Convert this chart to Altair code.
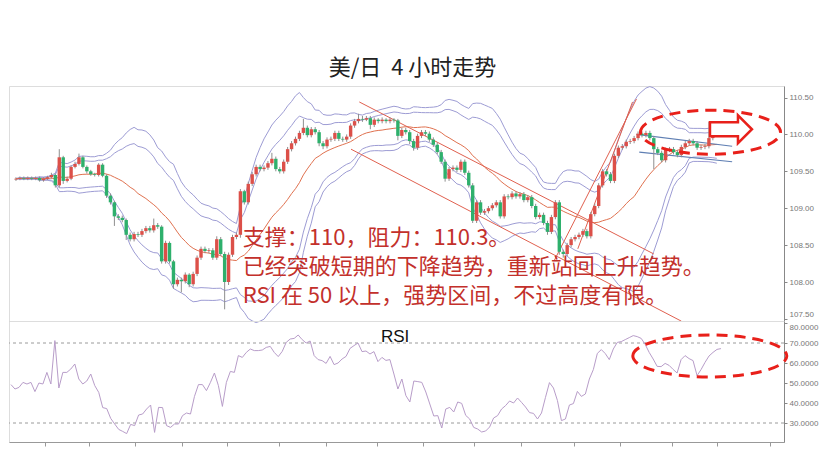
import altair as alt
import pandas as pd

# ---------------- data ----------------
closes = [
    109.40, 109.41, 109.40, 109.41, 109.40, 109.41, 109.38, 109.40, 109.42, 109.45,
    109.31, 109.69, 109.37, 109.40, 109.56, 109.60, 109.69, 109.56, 109.50, 109.46,
    109.45, 109.59, 109.44, 109.17, 109.08, 108.89, 108.87, 108.84, 108.64, 108.58,
    108.65, 108.64, 108.69, 108.73, 108.70, 108.77, 108.75, 108.28, 108.53, 108.28,
    107.97, 108.03, 108.01, 108.10, 107.97, 108.11, 108.33, 108.45, 108.42, 108.43,
    108.33, 108.58, 108.38, 108.00, 108.37, 108.61, 108.64, 109.23, 109.08, 109.33,
    109.46, 109.56, 109.53, 109.55, 109.61, 109.67, 109.53, 109.50, 109.63, 109.80,
    109.88, 109.94, 110.02, 110.09, 109.99, 110.07, 110.03, 109.88, 109.84, 109.93,
    109.94, 110.02, 109.94, 109.93, 109.97, 110.12, 110.18, 110.21, 110.20, 110.22,
    110.13, 110.20, 110.18, 110.20, 110.18, 110.20, 110.19, 109.98, 110.06, 110.03,
    109.91, 109.82, 109.98, 110.03, 110.01, 109.93, 109.86, 109.76, 109.63, 109.40,
    109.53, 109.55, 109.52, 109.63, 109.48, 109.31, 108.83, 109.08, 108.94, 108.96,
    109.00, 109.04, 109.08, 108.89, 109.16, 109.15, 109.20, 109.16, 109.19, 109.11,
    109.15, 109.03, 108.88, 108.91, 108.80, 108.68, 108.88, 109.08, 108.41, 108.38,
    108.50, 108.58, 108.61, 108.64, 108.69, 108.62, 108.92, 109.03, 109.31, 109.50,
    109.46, 109.37, 109.71, 109.82, 109.84, 109.90, 109.91, 109.95, 110.01, 109.99,
    110.02, 109.95, 109.80, 109.75, 109.65, 109.79, 109.80, 109.76, 109.72, 109.83,
    109.88, 109.91, 109.88, 109.82, 109.83, 109.84, 109.95, 110.03, 110.09,
]
opens = [
    109.39, 109.40, 109.41, 109.40, 109.41, 109.40, 109.41, 109.38, 109.40, 109.42,
    109.45, 109.31, 109.69, 109.37, 109.40, 109.56, 109.60, 109.69, 109.56, 109.50,
    109.46, 109.45, 109.59, 109.44, 109.17, 109.08, 108.89, 108.87, 108.84, 108.64,
    108.58, 108.65, 108.64, 108.69, 108.73, 108.70, 108.77, 108.75, 108.28, 108.53,
    108.28, 107.97, 108.03, 108.01, 108.10, 107.97, 108.11, 108.33, 108.45, 108.42,
    108.43, 108.33, 108.58, 108.38, 108.00, 108.37, 108.61, 108.64, 109.23, 109.08,
    109.33, 109.46, 109.56, 109.53, 109.55, 109.61, 109.67, 109.53, 109.50, 109.63,
    109.80, 109.88, 109.94, 110.02, 110.09, 109.99, 110.07, 110.03, 109.88, 109.84,
    109.93, 109.94, 110.02, 109.94, 109.93, 109.97, 110.12, 110.18, 110.21, 110.20,
    110.22, 110.13, 110.20, 110.18, 110.20, 110.18, 110.20, 110.19, 109.98, 110.06,
    110.03, 109.91, 109.82, 109.98, 110.03, 110.01, 109.93, 109.86, 109.76, 109.63,
    109.40, 109.53, 109.55, 109.52, 109.63, 109.48, 109.31, 108.83, 109.08, 108.94,
    108.96, 109.00, 109.04, 109.08, 108.89, 109.16, 109.15, 109.20, 109.16, 109.19,
    109.11, 109.15, 109.03, 108.88, 108.91, 108.80, 108.68, 108.88, 109.08, 108.41,
    108.38, 108.50, 108.58, 108.61, 108.64, 108.69, 108.62, 108.92, 109.03, 109.31,
    109.50, 109.46, 109.37, 109.71, 109.82, 109.84, 109.90, 109.91, 109.95, 110.01,
    109.99, 110.02, 109.95, 109.80, 109.75, 109.65, 109.79, 109.80, 109.76, 109.72,
    109.83, 109.88, 109.91, 109.88, 109.82, 109.83, 109.84, 109.95, 110.03,
]
highs = [
    109.42, 109.43, 109.43, 109.43, 109.43, 109.43, 109.43, 109.42, 109.44, 109.48,
    109.47, 109.80, 109.71, 109.43, 109.58, 109.63, 109.74, 109.71, 109.58, 109.52,
    109.48, 109.61, 109.61, 109.46, 109.20, 109.10, 108.92, 108.90, 108.86, 108.67,
    108.68, 108.68, 108.72, 108.76, 108.76, 108.86, 108.80, 108.77, 108.56, 108.55,
    108.30, 108.06, 108.06, 108.13, 108.12, 108.14, 108.36, 108.48, 108.48, 108.46,
    108.46, 108.62, 108.61, 108.41, 108.40, 108.64, 108.67, 109.26, 109.25, 109.36,
    109.49, 109.59, 109.59, 109.58, 109.64, 109.75, 109.70, 109.56, 109.66, 109.83,
    109.91, 109.97, 110.05, 110.21, 110.12, 110.10, 110.10, 110.06, 109.91, 109.96,
    109.97, 110.05, 110.05, 109.97, 110.00, 110.15, 110.21, 110.28, 110.25, 110.25,
    110.25, 110.23, 110.22, 110.23, 110.22, 110.23, 110.22, 110.21, 110.09, 110.09,
    110.06, 109.94, 110.01, 110.06, 110.06, 110.04, 109.96, 109.89, 109.79, 109.66,
    109.56, 109.58, 109.58, 109.66, 109.66, 109.51, 109.34, 109.11, 109.11, 108.99,
    109.03, 109.07, 109.11, 109.11, 109.19, 109.19, 109.23, 109.23, 109.22, 109.22,
    109.18, 109.18, 109.06, 108.94, 108.94, 108.83, 108.91, 109.11, 109.11, 108.44,
    108.53, 108.61, 108.64, 108.67, 108.72, 108.72, 108.95, 109.06, 109.34, 109.53,
    109.53, 109.49, 109.74, 109.85, 109.87, 109.93, 109.94, 109.98, 110.04, 110.04,
    110.05, 110.05, 109.98, 109.83, 109.78, 109.82, 109.83, 109.83, 109.79, 109.86,
    109.91, 109.94, 109.94, 109.91, 109.86, 109.87, 110.17, 110.06, 110.12,
]
lows = [
    109.37, 109.38, 109.38, 109.38, 109.38, 109.38, 109.36, 109.36, 109.38, 109.40,
    109.28, 109.28, 109.33, 109.35, 109.38, 109.54, 109.58, 109.54, 109.47, 109.44,
    109.43, 109.43, 109.42, 109.14, 109.05, 108.76, 108.84, 108.81, 108.57, 108.55,
    108.55, 108.61, 108.61, 108.66, 108.67, 108.67, 108.72, 108.25, 108.25, 108.25,
    107.91, 107.94, 107.86, 107.98, 107.93, 107.94, 108.08, 108.30, 108.39, 108.39,
    108.30, 108.30, 108.35, 107.63, 107.96, 108.34, 108.58, 108.60, 109.05, 109.05,
    109.30, 109.43, 109.50, 109.50, 109.52, 109.58, 109.50, 109.47, 109.47, 109.60,
    109.77, 109.85, 109.91, 109.99, 109.96, 109.96, 110.00, 109.84, 109.80, 109.81,
    109.90, 109.91, 109.91, 109.90, 109.90, 109.94, 110.09, 110.15, 110.17, 110.18,
    110.07, 110.10, 110.15, 110.15, 110.15, 110.15, 110.16, 109.92, 109.95, 110.00,
    109.87, 109.78, 109.79, 109.95, 109.98, 109.90, 109.83, 109.73, 109.60, 109.36,
    109.37, 109.50, 109.49, 109.49, 109.45, 109.28, 108.80, 108.80, 108.91, 108.91,
    108.93, 108.97, 109.01, 108.86, 108.86, 109.12, 109.12, 109.13, 109.13, 109.08,
    109.08, 109.00, 108.85, 108.85, 108.77, 108.64, 108.65, 108.85, 108.37, 108.33,
    108.35, 108.47, 108.55, 108.58, 108.61, 108.59, 108.59, 108.89, 109.00, 109.28,
    109.43, 109.34, 109.34, 109.68, 109.79, 109.81, 109.87, 109.88, 109.92, 109.96,
    109.96, 109.92, 109.53, 109.72, 109.62, 109.62, 109.76, 109.73, 109.69, 109.69,
    109.80, 109.85, 109.85, 109.79, 109.79, 109.80, 109.81, 109.92, 110.00,
]
rsi_vals = [
    49.2, 47.0, 47.8, 50.3, 49.5, 50.3, 45.7, 50.0, 49.5, 55.3,
    49.5, 71.2, 47.5, 55.3, 55.3, 57.0, 59.5, 52.0, 49.5, 51.0,
    54.5, 48.7, 45.3, 37.7, 37.2, 32.3, 29.5, 26.8, 25.8, 24.7,
    29.3, 28.7, 34.0, 34.5, 37.0, 39.0, 25.3, 37.8, 37.7, 28.7,
    27.8, 29.5, 29.5, 33.7, 35.0, 34.5, 43.3, 49.2, 49.2, 46.2,
    50.3, 55.0, 48.7, 38.3, 50.3, 55.8, 55.3, 63.7, 62.8, 65.3,
    67.0, 66.2, 66.2, 66.5, 67.8, 68.3, 65.3, 63.2, 65.8, 70.3,
    72.0, 72.3, 74.0, 71.7, 70.0, 71.0, 63.7, 61.7, 61.2, 59.8,
    63.3, 59.2, 60.0, 62.0, 63.3, 67.3, 68.7, 70.0, 65.7, 66.0,
    64.5, 65.7, 60.7, 62.8, 61.3, 61.7, 54.5, 47.0, 52.0, 43.7,
    40.5, 51.0, 50.7, 50.3, 45.5, 39.5, 33.5, 33.7, 27.5, 37.0,
    37.8, 35.5, 40.5, 39.8, 33.8, 32.0, 27.8, 27.0, 25.5, 26.0,
    28.0, 32.5, 33.7, 37.0, 38.7, 41.0, 40.0, 42.5, 40.3, 38.0,
    35.2, 34.8, 32.0, 35.0, 42.8, 50.2, 47.5, 41.2, 31.2, 32.0,
    39.0, 39.7, 45.8, 43.3, 44.5, 52.0, 56.7, 64.8, 66.7, 64.7,
    61.7, 67.0, 70.3, 70.7, 71.7, 72.7, 73.7, 73.2, 72.3, 69.3,
    65.3, 62.0, 58.3, 58.2, 59.8, 58.8, 56.8, 55.0, 61.7, 63.7,
    62.2, 61.2, 53.7, 56.7, 60.3, 63.5, 65.3, 66.8, 67.2,
]
idx = list(range(len(closes)))

price_ticks = [107.5, 108.0, 108.5, 109.0, 109.5, 110.0, 110.5]
rsi_ticks = [30, 40, 50, 60, 70, 80]
rsi_levels = [70, 30]
time_ticks = [8.5, 19.6, 31.1, 42.9, 54.2, 67.2, 79.0, 91.8, 103.3, 116.1,
              127.8, 141.1, 152.7, 165.7, 177.0, 190.3]

# trend lines drawn on the chart (bar index, price)
red_line_id = ["d_up", "d_up", "d_lo", "d_lo", "a1", "a1", "a2", "a2"]
red_line_i = [87.2, 162.0, 85.1, 169.0, 136.7, 157.6, 142.7, 156.6]
red_line_p = [110.44, 108.38, 109.80, 107.47, 108.29, 110.48, 108.45, 110.44]
blue_line_id = ["c1", "c1", "c2", "c2"]
blue_line_i = [157.6, 181.9, 158.3, 181.9]
blue_line_p = [110.00, 109.84, 109.76, 109.63]

title_text = "美/日\u00a0\u00a04 小时走势"
notes = ["支撑：110，阻力：110.3。",
         "已经突破短期的下降趋势，重新站回上升趋势。",
         "RSI 在 50 以上，强势区间，不过高度有限。"]
note_i = [57.6, 57.6, 57.6]
note_p = [108.596, 108.203, 107.810]

top_mark_i, top_mark_p = [176.4], [110.03]
arrow_i, arrow_p = [181.6], [110.07]
rsi_mark_i, rsi_mark_v = [175.2], [63.5]
rsi_label_i, rsi_label_v = [96.3], [73.0]

# ---------------- styling ----------------
W, H_TOP, H_RSI = 775, 235, 121
X_DOMAIN = [-0.5, 193.8]
P_DOMAIN = [107.472, 110.656]
R_DOMAIN = [20.5, 81.0]
RED, GREEN, WICK = "#dc5049", "#2eb06c", "#8e8e8e"
BAND, MA = "#9d9cd4", "#e0714f"
TREND, CHAN = "#e0604f", "#5f7fb3"
MARK, NOTE = "#e8201a", "#c3302b"
RSI_C = "#b89dc9"
AX = "#888888"

ELL_TOP = "M -1 0 A 1 0.314 0 1 1 1 0 A 1 0.314 0 1 1 -1 0 Z"
ELL_RSI = "M -1 0 A 1 0.273 0 1 1 1 0 A 1 0.273 0 1 1 -1 0 Z"
ARROW = "M -1 -0.333 L 0.333 -0.333 L 0.333 -0.667 L 1 0 L 0.333 0.667 L 0.333 0.333 L -1 0.333 Z"

df = pd.DataFrame(dict(i=idx, open=opens, high=highs, low=lows, close=closes, rsi=rsi_vals))

xs = alt.Scale(domain=X_DOMAIN, nice=False, zero=False)
ps = alt.Scale(domain=P_DOMAIN, nice=False, zero=False)
rs = alt.Scale(domain=R_DOMAIN, nice=False, zero=False)

top_x_axis = alt.Axis(orient="bottom", labels=False, ticks=False, domainColor="#aaaaaa",
                      grid=False, title=None)
rsi_x_axis = alt.Axis(orient="bottom", values=time_ticks, labels=False, tickSize=4,
                      tickColor="#999999", domainColor="#999999", grid=False, title=None)
price_axis = alt.Axis(orient="right", values=price_ticks, format=".2f", labelFontSize=8,
                      labelColor="#777777", labelFont="Liberation Sans", tickSize=3,
                      tickColor=AX, domainColor=AX, grid=False, title=None, labelPadding=2,
                      labelBaseline={"condition": {"test": "datum.value < 107.8",
                                                   "value": "bottom"},
                                     "value": "middle"})
rsi_axis = alt.Axis(orient="right", values=rsi_ticks, format=".4f", labelFontSize=8,
                    labelColor="#777777", labelFont="Liberation Sans", tickSize=3,
                    tickColor=AX, domainColor=AX, grid=False, title=None, labelPadding=2,
                    labelBaseline={"condition": {"test": "datum.value > 79",
                                                 "value": "top"},
                                   "value": "middle"})


def TX(field="i"):
    return alt.X(f"{field}:Q", scale=xs, axis=top_x_axis)


def PY(field):
    return alt.Y(f"{field}:Q", scale=ps, axis=price_axis)


def RX(field="i"):
    return alt.X(f"{field}:Q", scale=xs, axis=rsi_x_axis)


def RY(field):
    return alt.Y(f"{field}:Q", scale=rs, axis=rsi_axis)


base = alt.Chart(df)

wicks = base.mark_rule(color=WICK, strokeWidth=1).encode(x=TX(), y=PY("low"), y2="high:Q")

bodies = base.mark_bar(size=3.4).encode(
    x=TX(), y=PY("open"), y2="close:Q",
    color=alt.condition("datum.close >= datum.open", alt.value(RED), alt.value(GREEN)))

bands = base.transform_window(
    ma="mean(close)", sd="stdevp(close)", frame=[-19, 0], sort=[alt.SortField("i")]
).transform_calculate(
    u_out="datum.ma + 2.3*datum.sd", u_in="datum.ma + 1.7*datum.sd",
    l_in="datum.ma - 1.7*datum.sd", l_out="datum.ma - 2.3*datum.sd")

band_lines = bands.transform_fold(["u_out", "u_in", "l_in", "l_out"], as_=["band", "val"]).mark_line(
    color=BAND, strokeWidth=1).encode(x=TX(), y=PY("val"), detail="band:N")
ma_line = bands.mark_line(color=MA, strokeWidth=1).encode(x=TX(), y=PY("ma"))

red_df = pd.DataFrame(dict(line=red_line_id, i=red_line_i, p=red_line_p))
blue_df = pd.DataFrame(dict(line=blue_line_id, i=blue_line_i, p=blue_line_p))
red_lines = alt.Chart(red_df).mark_line(color=TREND, strokeWidth=1, clip=True).encode(
    x=TX(), y=PY("p"), detail="line:N")
blue_lines = alt.Chart(blue_df).mark_line(color=CHAN, strokeWidth=1.2, clip=True).encode(
    x=TX(), y=PY("p"), detail="line:N")

note_df = pd.DataFrame(dict(text=notes, i=note_i, p=note_p))
note_text = alt.Chart(note_df).mark_text(align="left", baseline="middle", font="Noto Sans CJK SC",
                                         fontSize=22, color=NOTE).encode(
    x=TX(), y=PY("p"), text="text:N")

top_ell = alt.Chart(pd.DataFrame(dict(i=top_mark_i, p=top_mark_p))).mark_point(
    shape=ELL_TOP, size=19600, filled=False, strokeWidth=3, strokeDash=[11, 7],
    color=MARK, opacity=1).encode(x=TX(), y=PY("p"))
arrow = alt.Chart(pd.DataFrame(dict(i=arrow_i, p=arrow_p))).mark_point(
    shape=ARROW, size=1764, filled=True, fill="white", stroke=MARK, strokeWidth=2.5,
    opacity=1, fillOpacity=1).encode(x=TX(), y=PY("p"))

top = alt.layer(band_lines, ma_line, red_lines, blue_lines, wicks, bodies, note_text,
                top_ell, arrow).properties(
    width=W, height=H_TOP,
    title=alt.TitleParams(text=title_text, fontSize=22, font="Noto Sans CJK SC",
                          fontWeight="normal", color="#222222", offset=5, anchor="middle",
                          dx=16))

# ---------------- RSI panel ----------------
rsi_line = base.mark_line(color=RSI_C, strokeWidth=1).encode(x=RX(), y=RY("rsi"))
levels = alt.Chart(pd.DataFrame(dict(lvl=rsi_levels))).mark_rule(
    color="#9a9a9a", strokeDash=[3, 3], strokeWidth=1).encode(y=RY("lvl"))
rsi_label = alt.Chart(pd.DataFrame(dict(i=rsi_label_i, v=rsi_label_v, t=["RSI"]))).mark_text(
    font="Liberation Sans", fontSize=17, color="#111111", baseline="middle").encode(
    x=RX(), y=RY("v"), text="t:N")
rsi_ell = alt.Chart(pd.DataFrame(dict(i=rsi_mark_i, v=rsi_mark_v))).mark_point(
    shape=ELL_RSI, size=23716, filled=False, strokeWidth=3, strokeDash=[11, 7],
    color=MARK, opacity=1).encode(x=RX(), y=RY("v"))

bottom = alt.layer(levels, rsi_line, rsi_label, rsi_ell).properties(width=W, height=H_RSI)

chart = alt.vconcat(top, bottom, spacing=0, bounds="flush").resolve_scale(
    x="independent", y="independent"
).properties(
    padding={"left": 0, "top": 48, "right": 0, "bottom": 0}
).configure_view(strokeWidth=0).configure(background="white")

chart.save("out.html", embed_options={"renderer": "svg", "actions": False})
